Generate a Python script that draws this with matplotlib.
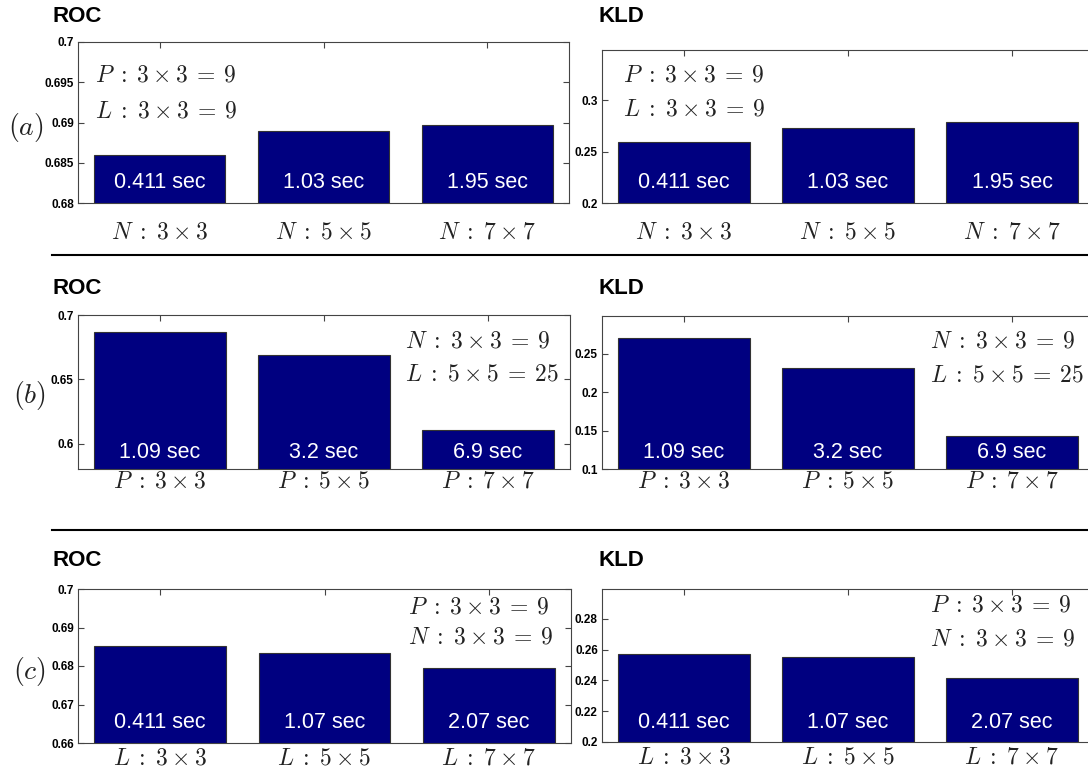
import matplotlib
matplotlib.use("Agg")
import matplotlib.pyplot as plt
from matplotlib.lines import Line2D

plt.rcParams['mathtext.fontset'] = 'cm'
plt.rcParams['font.family'] = ['Liberation Sans', 'DejaVu Sans']

# ---------------- data ----------------
positions = [1, 2, 3]

roc_a = [0.6860, 0.6889, 0.6897]
kld_a = [0.2592, 0.2728, 0.2786]
roc_b = [0.6867, 0.6688, 0.6110]
kld_b = [0.2700, 0.2310, 0.1430]
roc_c = [0.6852, 0.6834, 0.6795]
kld_c = [0.2573, 0.2554, 0.2417]

times_a = ['0.411 sec', '1.03 sec', '1.95 sec']
times_b = ['1.09 sec', '3.2 sec', '6.9 sec']
times_c = ['0.411 sec', '1.07 sec', '2.07 sec']

xlabels_a = [r'$N\;{:}\;3\:{\times}\:3$', r'$N\;{:}\;5\:{\times}\:5$', r'$N\;{:}\;7\:{\times}\:7$']
xlabels_b = [r'$P\;{:}\;3\:{\times}\:3$', r'$P\;{:}\;5\:{\times}\:5$', r'$P\;{:}\;7\:{\times}\:7$']
xlabels_c = [r'$L\;{:}\;3\:{\times}\:3$', r'$L\;{:}\;5\:{\times}\:5$', r'$L\;{:}\;7\:{\times}\:7$']

roc_a_yticks = [0.68, 0.685, 0.69, 0.695, 0.70]
roc_a_ylabels = ['0.68', '0.685', '0.69', '0.695', '0.7']
kld_a_yticks = [0.20, 0.25, 0.30]
kld_a_ylabels = ['0.2', '0.25', '0.3']
roc_b_yticks = [0.60, 0.65, 0.70]
roc_b_ylabels = ['0.6', '0.65', '0.7']
kld_b_yticks = [0.10, 0.15, 0.20, 0.25]
kld_b_ylabels = ['0.1', '0.15', '0.2', '0.25']
roc_c_yticks = [0.66, 0.67, 0.68, 0.69, 0.70]
roc_c_ylabels = ['0.66', '0.67', '0.68', '0.69', '0.7']
kld_c_yticks = [0.20, 0.22, 0.24, 0.26, 0.28]
kld_c_ylabels = ['0.2', '0.22', '0.24', '0.26', '0.28']

note_a = [r'$P\;{:}\;3\:{\times}\:3\:{=}\:9$', r'$L\;{:}\;3\:{\times}\:3\:{=}\:9$']
note_b = [r'$N\;{:}\;3\:{\times}\:3\:{=}\:9$', r'$L\;{:}\;5\:{\times}\:5\:{=}\:25$']
note_c = [r'$P\;{:}\;3\:{\times}\:3\:{=}\:9$', r'$N\;{:}\;3\:{\times}\:3\:{=}\:9$']

row_labels = [r'$(a)$', r'$(b)$', r'$(c)$']
titles = ['ROC', 'KLD']

# ---------------- layout ----------------
W, H = 1088, 774
fig = plt.figure(figsize=(W / 100, H / 100), dpi=100)

def axrect(x0, y0, x1, y1):
    return [x0 / W, 1 - y1 / H, (x1 - x0) / W, (y1 - y0) / H]

def pt(x, y):
    return x / W, 1 - y / H

BAR_COLOR = '#000080'
SPINE = '#444444'
MATH_SIZE = 17

def panel(rect, vals, times, xlabels, ylim, yticks, ylabels, xpad, txt_off):
    ax = fig.add_axes(axrect(*rect))
    ax.set_axisbelow(True)
    ax.bar(positions, vals, width=0.8, color=BAR_COLOR, edgecolor='#333333',
           linewidth=0.8, zorder=2)
    ax.set_xlim(0.5, 3.5)
    ax.set_ylim(*ylim)
    ax.set_xticks(positions)
    ax.set_xticklabels(xlabels, fontsize=MATH_SIZE, color='#222222')
    ax.set_yticks(yticks)
    ax.set_yticklabels(ylabels, fontsize=8.5, fontweight='bold')
    ax.tick_params(axis='both', direction='in', length=4, width=0.8,
                   color=SPINE, top=True, right=True)
    ax.tick_params(axis='x', pad=xpad)
    ax.tick_params(axis='y', pad=3)
    for s in ax.spines.values():
        s.set_color(SPINE)
        s.set_linewidth(0.8)
    for p, t in zip(positions, times):
        ax.annotate(t, xy=(p, 0), xycoords=('data', 'axes fraction'),
                    xytext=(0, txt_off * 0.72), textcoords='offset points',
                    ha='center', va='center', color='white', fontsize=15.5)
    return ax

# row (a)
panel((78, 42, 569, 203), roc_a, times_a, xlabels_a, (0.68, 0.70),
      roc_a_yticks, roc_a_ylabels, 13, 20)
panel((602, 50, 1094, 203), kld_a, times_a, xlabels_a, (0.20, 0.349),
      kld_a_yticks, kld_a_ylabels, 13, 20)
# row (b)
panel((78, 315, 570, 469), roc_b, times_b, xlabels_b, (0.5805, 0.70),
      roc_b_yticks, roc_b_ylabels, 1, 16)
panel((602, 316, 1094, 469), kld_b, times_b, xlabels_b, (0.10, 0.299),
      kld_b_yticks, kld_b_ylabels, 1, 16)
# row (c)
panel((78, 589, 571, 743), roc_c, times_c, xlabels_c, (0.66, 0.70),
      roc_c_yticks, roc_c_ylabels, 3, 20)
panel((602, 589, 1094, 742), kld_c, times_c, xlabels_c, (0.20, 0.2995),
      kld_c_yticks, kld_c_ylabels, 3, 20)

# titles
for y in (16, 288, 561):
    fig.text(*pt(52, y), titles[0], fontsize=16, fontweight='bold',
             ha='left', va='center')
    fig.text(*pt(598, y), titles[1], fontsize=16, fontweight='bold',
             ha='left', va='center')

# notes
def note(x, y1, y2, lines):
    fig.text(*pt(x, y1), lines[0], fontsize=MATH_SIZE, ha='left', va='center', color='#222222')
    fig.text(*pt(x, y2), lines[1], fontsize=MATH_SIZE, ha='left', va='center', color='#222222')

note(95, 76, 111, note_a)
note(623, 76, 110, note_a)
note(405, 341, 374, note_b)
note(930, 341, 375, note_b)
note(408, 607, 638, note_c)
note(930, 606, 639, note_c)

# row labels
fig.text(*pt(8, 127), row_labels[0], fontsize=20, ha='left', va='center', color='#222222')
fig.text(*pt(13, 395), row_labels[1], fontsize=20, ha='left', va='center', color='#222222')
fig.text(*pt(13, 672), row_labels[2], fontsize=20, ha='left', va='center', color='#222222')

# separator lines
for y in (255, 530):
    x0, yy = pt(52, y)
    fig.add_artist(Line2D([x0, 1.0], [yy, yy], color='black', linewidth=1.5))

fig.savefig('out.png', dpi=100)
